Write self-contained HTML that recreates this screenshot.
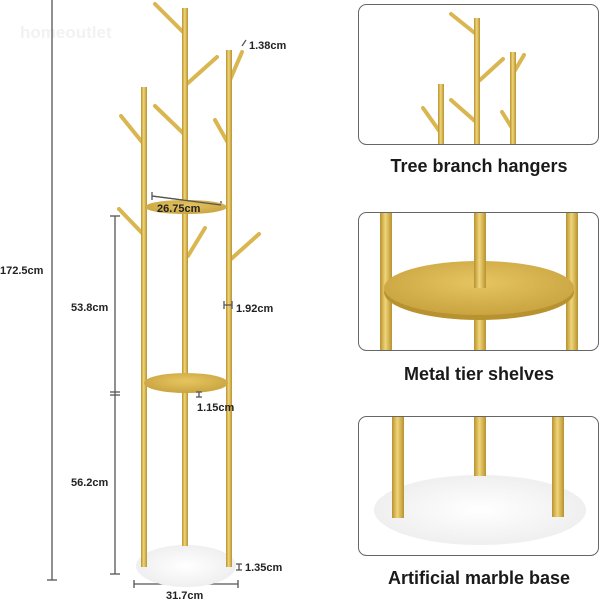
<!DOCTYPE html>
<html><head><style>
html,body{margin:0;padding:0;background:#fff;}
svg{display:block}
text{font-family:"Liberation Sans",sans-serif;}
</style></head><body>
<svg width="600" height="600" viewBox="0 0 600 600" xmlns="http://www.w3.org/2000/svg">
<defs>
<linearGradient id="g" x1="0" x2="1" y1="0" y2="0">
<stop offset="0" stop-color="#b8922e"/><stop offset="0.45" stop-color="#f0d57a"/><stop offset="1" stop-color="#b8922e"/>
</linearGradient>
<radialGradient id="sh" cx="0.5" cy="0.4" r="0.6">
<stop offset="0" stop-color="#e6c561"/><stop offset="1" stop-color="#c9a441"/>
</radialGradient>
<radialGradient id="mb" cx="0.5" cy="0.5" r="0.6">
<stop offset="0" stop-color="#ffffff"/><stop offset="1" stop-color="#ececec"/>
</radialGradient>
</defs>
<text x="20" y="38" font-size="17" font-weight="bold" fill="#f2f2f2">homeoutlet</text>
<!-- dimension lines -->
<g stroke="#555" stroke-width="1.3">
<line x1="52" y1="0" x2="52" y2="580"/><line x1="47" y1="580" x2="57" y2="580"/>
<line x1="115" y1="216" x2="115" y2="574"/>
<line x1="110" y1="216" x2="120" y2="216"/><line x1="110" y1="392" x2="120" y2="392"/><line x1="110" y1="395" x2="120" y2="395"/><line x1="110" y1="574" x2="120" y2="574"/>
<line x1="134" y1="584" x2="238" y2="584"/><line x1="134" y1="580" x2="134" y2="588"/><line x1="238" y1="580" x2="238" y2="588"/>
<line x1="152" y1="196" x2="221" y2="205"/><line x1="152" y1="192" x2="152" y2="200"/><line x1="221" y1="201" x2="221" y2="209"/>
</g>
<!-- branches -->
<g stroke="#d9b64f" stroke-width="4" stroke-linecap="round">
<line x1="183" y1="32" x2="155" y2="4"/>
<line x1="188" y1="83" x2="217" y2="57"/>
<line x1="183" y1="133" x2="155" y2="106"/>
<line x1="142" y1="142" x2="121" y2="116"/>
<line x1="230" y1="80" x2="242" y2="52"/>
<line x1="228" y1="143" x2="215" y2="120"/>
<line x1="142" y1="233" x2="119" y2="209"/>
<line x1="188" y1="256" x2="205" y2="228"/>
<line x1="230" y1="260" x2="259" y2="234"/>
</g>
<!-- base -->
<ellipse cx="186" cy="566" rx="50" ry="21" fill="url(#mb)"/>
<!-- poles -->
<rect x="141" y="87" width="6" height="180" fill="url(#g)"/>
<rect x="141" y="200" width="6" height="367" fill="url(#g)"/>
<rect x="182" y="8" width="6" height="238" fill="url(#g)"/>
<rect x="182" y="200" width="6" height="346" fill="url(#g)"/>
<rect x="226" y="50" width="6" height="517" fill="url(#g)"/>
<!-- shelves -->
<ellipse cx="186" cy="207" rx="41" ry="7" fill="url(#sh)"/>
<ellipse cx="186" cy="383" rx="42" ry="10" fill="url(#sh)"/>
<g stroke="#555" stroke-width="1.3">
<line x1="152" y1="196" x2="221" y2="205"/>
<line x1="196" y1="392" x2="202" y2="392"/><line x1="196" y1="397" x2="202" y2="397"/><line x1="199" y1="392" x2="199" y2="397"/>
<line x1="224" y1="301" x2="224" y2="309"/><line x1="232" y1="301" x2="232" y2="309"/><line x1="224" y1="305" x2="232" y2="305"/>
<line x1="236" y1="564" x2="242" y2="564"/><line x1="236" y1="570" x2="242" y2="570"/><line x1="239" y1="564" x2="239" y2="570"/>
<line x1="242" y1="46" x2="246" y2="40"/>
</g>
<g font-size="11" fill="#222" font-weight="bold">
<text x="249" y="49">1.38cm</text>
<text x="157" y="212">26.75cm</text>
<text x="0" y="274">172.5cm</text>
<text x="71" y="311">53.8cm</text>
<text x="236" y="312">1.92cm</text>
<text x="197" y="411">1.15cm</text>
<text x="71" y="486">56.2cm</text>
<text x="245" y="571">1.35cm</text>
<text x="166" y="599">31.7cm</text>
</g>
<!-- panel 1 -->
<rect x="358.5" y="4.5" width="240" height="140" rx="8" fill="#fff" stroke="#666" stroke-width="1"/>
<g stroke="#d9b64f" stroke-width="4" stroke-linecap="round">
<line x1="476" y1="34" x2="451" y2="14"/>
<line x1="480" y1="80" x2="503" y2="59"/>
<line x1="476" y1="122" x2="451" y2="100"/>
<line x1="440" y1="132" x2="423" y2="108"/>
<line x1="514" y1="72" x2="524" y2="55"/>
<line x1="512" y1="128" x2="502" y2="112"/>
</g>
<rect x="438" y="84" width="6" height="60" fill="url(#g)"/>
<rect x="474" y="18" width="6" height="126" fill="url(#g)"/>
<rect x="510" y="52" width="6" height="92" fill="url(#g)"/>
<text x="479" y="172" font-size="18" font-weight="bold" text-anchor="middle" fill="#1a1a1a">Tree branch hangers</text>
<!-- panel 2 -->
<rect x="358.5" y="212.5" width="240" height="138" rx="8" fill="#fff" stroke="#666" stroke-width="1"/>
<rect x="380" y="213" width="12" height="137" fill="url(#g)"/>
<rect x="566" y="213" width="12" height="137" fill="url(#g)"/>
<rect x="474" y="213" width="12" height="137" fill="url(#g)"/>
<ellipse cx="479" cy="292" rx="95" ry="28" fill="#b8922e"/>
<ellipse cx="479" cy="288" rx="95" ry="27" fill="url(#sh)"/>
<rect x="474" y="213" width="12" height="75" fill="url(#g)"/>
<text x="479" y="380" font-size="18" font-weight="bold" text-anchor="middle" fill="#1a1a1a">Metal tier shelves</text>
<!-- panel 3 -->
<rect x="358.5" y="416.5" width="240" height="139" rx="8" fill="#fff" stroke="#666" stroke-width="1"/>
<ellipse cx="480" cy="510" rx="106" ry="35" fill="url(#mb)"/>
<rect x="392" y="417" width="12" height="101" fill="url(#g)"/>
<rect x="474" y="417" width="12" height="59" fill="url(#g)"/>
<rect x="552" y="417" width="12" height="100" fill="url(#g)"/>
<text x="479" y="584" font-size="18" font-weight="bold" text-anchor="middle" fill="#1a1a1a">Artificial marble base</text>
</svg>
</body></html>
